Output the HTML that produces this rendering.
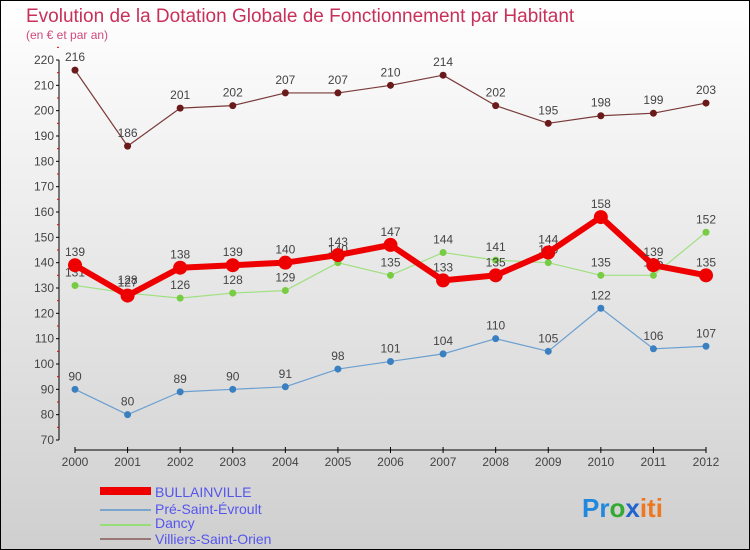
<!DOCTYPE html>
<html><head><meta charset="utf-8"><style>
body{margin:0;}
#c{position:relative;width:750px;height:550px;box-sizing:border-box;border:1px solid #000;background:linear-gradient(#ffffff,#cfcfcf);font-family:"Liberation Sans",sans-serif;overflow:hidden}
</style></head><body>
<div id="c">
<svg id="s" width="750" height="550" style="position:absolute;left:-1px;top:-1px" font-family="Liberation Sans, sans-serif">
<text x="26" y="22" font-size="19" fill="#c8305a">Evolution de la Dotation Globale de Fonctionnement par Habitant</text>
<text x="26" y="39" font-size="12" fill="#d0487a">(en € et par an)</text>
<g id="axes"></g><g id="series"></g>
<g font-size="14" fill="#5555ee">
<rect x="100" y="487" width="51" height="8" fill="#ee0000"/>
<text x="155" y="497">BULLAINVILLE</text>
<line x1="100" y1="510" x2="151" y2="510" stroke="#7aa6cc" stroke-width="2"/>
<text x="155" y="514">Pré-Saint-Évroult</text>
<line x1="100" y1="525" x2="151" y2="525" stroke="#99dd77" stroke-width="2"/>
<text x="155" y="528">Dancy</text>
<line x1="100" y1="539" x2="151" y2="539" stroke="#997777" stroke-width="2"/>
<text x="155" y="544">Villiers-Saint-Orien</text>
</g>
<text x="582" y="517" font-size="26" font-weight="bold"><tspan fill="#2288dd">Pr</tspan><tspan fill="#33aa33">o</tspan><tspan fill="#2266cc">x</tspan><tspan fill="#ee7722">iti</tspan></text>
</svg>
</div>
<script>
const years=[2000,2001,2002,2003,2004,2005,2006,2007,2008,2009,2010,2011,2012];
const bullainville=[139,127,138,139,140,143,147,133,135,144,158,139,135];
const preSaintEvroult=[90,80,89,90,91,98,101,104,110,105,122,106,107];
const dancy=[131,128,126,128,129,140,135,144,141,140,135,135,152];
const villiers=[216,186,201,202,207,207,210,214,202,195,198,199,203];
const yTicks=[70,80,90,100,110,120,130,140,150,160,170,180,190,200,210,220];
const NS='http://www.w3.org/2000/svg';
const xs=i=>75+i*(631/12);
const ys=v=>440-(v-70)*(380/150);
function mk(tag,attrs,parent){const e=document.createElementNS(NS,tag);for(const k in attrs)e.setAttribute(k,attrs[k]);parent.appendChild(e);return e;}
const ax=document.getElementById('axes');
let yl=mk('line',{x1:59,y1:ys(220),x2:59,y2:ys(70),stroke:'#000'},ax);


yTicks.forEach(v=>{
 mk('line',{x1:56,y1:ys(v),x2:59,y2:ys(v),stroke:'#000'},ax);
 mk('line',{x1:57,y1:ys(v+5),x2:59,y2:ys(v+5),stroke:'#e00'},ax);
 const t=mk('text',{x:54,y:ys(v)+4,'font-size':12,fill:'#444','text-anchor':'end'},ax);t.textContent=v;
 
 
});
let xl=mk('line',{x1:75,y1:450,x2:706,y2:450,stroke:'#000'},ax);


years.forEach((y,i)=>{
 mk('line',{x1:xs(i),y1:447,x2:xs(i),y2:453,stroke:'#000'},ax);
 const t=mk('text',{x:xs(i),y:466,'font-size':12,fill:'#444','text-anchor':'middle'},ax);t.textContent=y;
 
 
});
const sg=document.getElementById('series');
function draw(vals,color,mcol,w,r,name){
 const g=mk('g',{},sg);
 
 
 const pl=mk('polyline',{points:vals.map((v,i)=>xs(i)+','+ys(v)).join(' '),fill:'none',stroke:color,'stroke-width':w,'stroke-linejoin':'round'},g);
 
 
 vals.forEach((v,i)=>{
  const c=mk('circle',{cx:xs(i),cy:ys(v),r:r,fill:mcol},g);
  
  
  const t=mk('text',{x:xs(i),y:ys(v)-9,'font-size':12,fill:'#444','text-anchor':'middle'},g);t.textContent=v;
  
  
 });
}
draw(villiers,'#7a3a3a','#6a1a1a',1.2,3.5,'villiers');
draw(preSaintEvroult,'#6a9fd0','#3a7fc0',1.2,3.5,'pre');
draw(dancy,'#a0e080','#77cc44',1.2,3.5,'dancy');
draw(bullainville,'#ee0000','#ee0000',6,7,'bullainville');
</script>
</body></html>
